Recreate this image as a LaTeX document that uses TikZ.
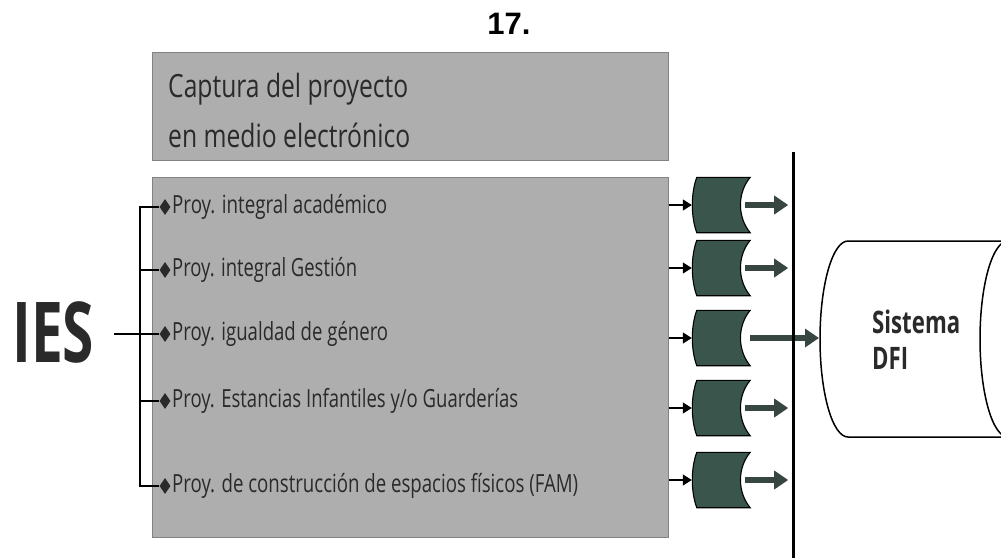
\documentclass[tikz,border=0pt]{standalone}
\usepackage{graphicx}
\usepackage{fontspec}
\setmainfont{Open Sans}
\newfontfamily\condf{Open Sans}
\newfontfamily\arialf{Liberation Sans}
\usetikzlibrary{arrows.meta,shapes.geometric,calc}
\newsavebox\fitbox
\newlength\fitlen
\newcommand\fitw[2]{\sbox\fitbox{#2}\setlength\fitlen{\wd\fitbox}\pgfmathsetmacro\fitf{#1/\fitlen}\scalebox{\fitf}[1]{\usebox\fitbox}}
\definecolor{boxgray}{RGB}{174,174,174}
\definecolor{boxedge}{RGB}{130,130,130}
\definecolor{txtdark}{RGB}{42,42,42}
\definecolor{gfill}{RGB}{58,86,76}
\definecolor{garrow}{RGB}{55,70,64}
\tikzset{
  graybox/.style={draw=boxedge, fill=boxgray, line width=0.8pt, inner sep=0pt, anchor=north west},
  itemtxt/.style={anchor=west, inner sep=0pt, text=txtdark, font=\condf\fontsize{25}{28}\selectfont},
  bullet/.style={diamond, fill=txtdark, draw=none, inner sep=0pt, minimum width=11pt, minimum height=16pt},
  ghost/.style={draw=none, inner sep=0pt, minimum width=58pt, minimum height=55pt},
  gshape/.style={draw=black, fill=gfill, line width=1.1pt},
  inarrow/.style={draw=black, line width=1.3pt, -{Triangle[length=9pt,width=11pt]}},
  outarrow/.style={draw=garrow, line width=6pt, -{Triangle[length=14pt,width=18pt]}},
  bracket/.style={draw=black, line width=1.3pt},
}
\begin{document}
\begin{tikzpicture}[x=1pt,y=-1pt]
\useasboundingbox (0,0) rectangle (1001,558);
\fill[white] (0,0) rectangle (1001,558);

% title
\node[font=\arialf\bfseries\fontsize{31}{34}\selectfont, text=black] (title) at (509,24) {17.};

% boxes
\node[graybox, minimum width=516pt, minimum height=108pt] (cap) at (152,52) {};
\node[anchor=west, inner sep=0pt, text=txtdark, font=\condf\fontsize{32}{36}\selectfont]
      (cap1) at (168,89) {\fitw{240}{Captura del proyecto}};
\node[anchor=west, inner sep=0pt, text=txtdark, font=\condf\fontsize{32}{36}\selectfont]
      (cap2) at (168,135) {\fitw{242}{en medio electrónico}};
\node[graybox, minimum width=516pt, minimum height=360pt] (main) at (152,177) {};

% IES
\node[font=\condf\bfseries\fontsize{84}{90}\selectfont, text=txtdark, inner sep=0pt, anchor=west]
      (ies) at (12,332) {\fitw{82}{IES}};

% items
\foreach \i/\y/\w/\t in {1/207/215/{Proy. integral académico},
                      2/270/185/{Proy. integral Gestión},
                      3/334/216/{Proy. igualdad de género},
                      4/401/346/{Proy. Estancias Infantiles y/o Guarderías},
                      5/486/406/{Proy. de construcción de espacios físicos (FAM)}}{
  \node[bullet] (d\i) at (165,\y) {};
  \node[itemtxt] (i\i) at (172,\y) {\fitw{\w}{\t}};
}
\coordinate (br) at (140,207);
\draw[bracket] (d1.west) -- (br) |- (d5.west);
\foreach \i in {2,3,4}{ \draw[bracket] (d\i.west -| br) -- (d\i.west); }
\draw[bracket] ([xshift=20pt]ies.east |- d3.west) -- (d3.west -| br);

% green shapes and arrows
\foreach \i/\y in {1/205,2/268,3/338,4/408,5/480}{
  \node[ghost] (g\i) at (721,\y) {};
  \draw[gshape] ($(g\i.north west)+(5,0)$) -- (g\i.north east)
     .. controls ($(g\i.east)+(-13,-12)$) and ($(g\i.east)+(-13,12)$) .. (g\i.south east)
     -- ($(g\i.south west)+(5,0)$)
     .. controls ($(g\i.west)+(-1,12)$) and ($(g\i.west)+(-1,-12)$) .. cycle;
  \draw[inarrow] (main.east |- g\i.west) -- (g\i.west);
}
\foreach \i in {1,2,4,5}{
  \coordinate (o\i) at ($(g\i.east)+(38,0)$);
  \draw[outarrow] ($(g\i.east)+(-5,0)$) -- (o\i);
}

% vertical line
\coordinate (vtop) at (793,152);
\coordinate (vbot) at (793,558);

% cylinder
\draw[line width=1.5pt, fill=white]
  (848,241) -- (1008,241)
  .. controls (1023.5,241) and (1036,285) .. (1036,339)
  .. controls (1036,393) and (1023.5,437) .. (1008,437)
  -- (848,437)
  .. controls (832.5,437) and (820,393) .. (820,339)
  .. controls (820,285) and (832.5,241) .. (848,241) -- cycle;
\draw[line width=1.5pt]
  (1008,241) .. controls (992.5,241) and (980,285) .. (980,339)
  .. controls (980,393) and (992.5,437) .. (1008,437);
\coordinate (dfiin) at (819,338);
\node[anchor=west, inner sep=0pt, text=txtdark,
      font=\condf\bfseries\fontsize{31}{37}\selectfont] (dfi1) at (872,322) {\fitw{88}{Sistema}};
\node[anchor=west, inner sep=0pt, text=txtdark,
      font=\condf\bfseries\fontsize{31}{37}\selectfont] (dfi2) at (872,358) {\fitw{36}{DFI}};

\draw[outarrow] (g3.east) -- (dfiin);
\draw[line width=3pt] (vtop) -- (vbot);
\end{tikzpicture}
\end{document}
